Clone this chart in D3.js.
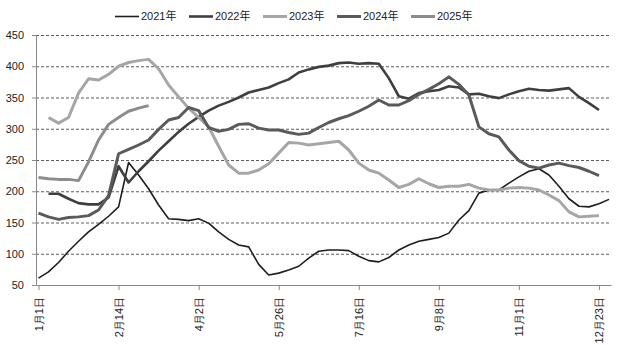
<!DOCTYPE html>
<html>
<head>
<meta charset="utf-8">
<script src="https://cdn.jsdelivr.net/npm/d3@7"></script>
<style>
  body { margin: 0; background: #fff; }
  svg { display: block; font-family: "Liberation Sans", "Noto Sans CJK SC", sans-serif; }
</style>
</head>
<body>
<svg id="chart" width="617" height="345"></svg>
<script>
// Category axis: one point per period, a date label every 8 periods
const tickLabels = ["1月1日", "2月14日", "4月2日", "5月26日", "7月16日", "9月8日", "11月1日", "12月23日"];
const labelEvery = 8;
const yTicks = [50, 100, 150, 200, 250, 300, 350, 400, 450];
const seriesNames = ["2021年", "2022年", "2023年", "2024年", "2025年"];

const s2021 = [61, 71, 86, 104, 120, 135, 147, 160, 175, 246, 226, 204, 178, 156, 155, 153, 156, 149, 135, 123,
  114, 111, 83, 66, 69, 74, 80, 93, 104, 106, 106, 105, 96, 89, 87, 94, 106, 114, 120, 123,
  126, 133, 154, 169, 197, 202, 202, 213, 223, 232, 236, 226, 208, 188, 176, 175, 180, 187];
const s2022 = [null, 196, 196, 188, 181, 179, 179, 190, 240, 214, 232, 248, 265, 280, 295, 308, 319, 329, 337, 343,
  350, 358, 362, 366, 373, 379, 390, 395, 399, 401, 405, 406, 404, 405, 404, 381, 352, 348, 357, 360,
  362, 368, 366, 355, 356, 352, 349, 355, 360, 364, 362, 361, 363, 365, 351, 341, 330];
const s2023 = [null, 318, 309, 318, 357, 380, 378, 387, 400, 406, 409, 411, 396, 370, 351, 333, 318, 303, 272, 242,
  229, 229, 234, 244, 261, 278, 277, 274, 276, 278, 280, 266, 245, 234, 229, 218, 206, 211, 220, 212,
  206, 208, 208, 211, 205, 202, 202, 205, 206, 205, 202, 194, 185, 167, 159, 160, 161];
const s2024 = [165, 159, 155, 158, 159, 161, 170, 193, 260, 267, 274, 282, 299, 314, 318, 334, 329, 302, 296, 299,
  307, 308, 301, 298, 298, 294, 291, 293, 302, 310, 316, 321, 328, 336, 346, 338, 338, 345, 355, 363,
  372, 383, 371, 354, 303, 292, 287, 266, 249, 240, 237, 242, 245, 241, 238, 232, 225];
const s2025 = [222, 220, 219, 219, 217, 247, 282, 307, 318, 328, 333, 337];

const seriesValues = [s2021, s2022, s2023, s2024, s2025];
const seriesColors = ["#1e1e1e", "#3f3f3f", "#a6a6a6", "#5a5a5a", "#8c8c8c"];
const seriesWidths = [1.6, 2.6, 3, 3, 3];

const svg = d3.select("#chart");
const plot = { left: 36, right: 611, top: 35, bottom: 285 };

const x = d3.scaleLinear().domain([-0.25, 57.2]).range([plot.left, plot.right]);
const y = d3.scaleLinear().domain([50, 450]).range([plot.bottom, plot.top]);

// Dashed horizontal gridlines
const grid = svg.append("g")
  .attr("transform", `translate(${plot.left},0)`)
  .call(d3.axisLeft(y).tickValues(yTicks.filter(v => v > 50)).tickSize(-(plot.right - plot.left)).tickFormat(""));
grid.select(".domain").remove();
grid.selectAll("line").attr("stroke", "#4a4a4a").attr("stroke-width", 0.9).attr("stroke-dasharray", "3,2");

// Y axis
const yAxis = svg.append("g")
  .attr("transform", `translate(${plot.left},0)`)
  .call(d3.axisLeft(y).tickValues(yTicks).tickSize(4).tickSizeOuter(0).tickPadding(8));
yAxis.select(".domain").attr("stroke", "#888");
yAxis.selectAll(".tick line").attr("stroke", "#888");
yAxis.selectAll("text").attr("font-size", 11).attr("fill", "#222")
  .attr("font-family", "'Liberation Sans', sans-serif");

// X axis with rotated date labels
const xAxis = svg.append("g")
  .attr("transform", `translate(0,${plot.bottom})`)
  .call(d3.axisBottom(x)
    .tickValues(tickLabels.map((_, k) => k * labelEvery))
    .tickFormat(i => tickLabels[i / labelEvery])
    .tickSize(5).tickSizeOuter(0));
xAxis.select(".domain").attr("stroke", "#888");
xAxis.selectAll(".tick line").attr("stroke", "#888");
xAxis.selectAll("text")
  .attr("font-size", 11).attr("fill", "#222")
  .attr("text-anchor", "end")
  .attr("dy", "0.35em")
  .attr("transform", "translate(0,12) rotate(-90)")
  .attr("y", 0).attr("x", 0);

// Series lines
const line = d3.line()
  .defined(d => d != null)
  .x((d, i) => x(i))
  .y(d => y(d));

svg.append("g").selectAll("path")
  .data(seriesValues)
  .join("path")
  .attr("d", d => line(d))
  .attr("fill", "none")
  .attr("stroke", (d, k) => seriesColors[k])
  .attr("stroke-width", (d, k) => seriesWidths[k])
  .attr("stroke-linejoin", "round")
  .attr("stroke-linecap", "butt");

// Legend
const legend = svg.append("g").attr("transform", "translate(115,16.5)");
const item = legend.selectAll("g")
  .data(seriesNames)
  .join("g")
  .attr("transform", (d, k) => `translate(${k * 74},0)`);
item.append("line")
  .attr("x1", 0).attr("x2", 24).attr("y1", 0).attr("y2", 0)
  .attr("stroke", (d, k) => seriesColors[k])
  .attr("stroke-width", (d, k) => seriesWidths[k]);
item.append("text")
  .attr("x", 26).attr("y", 0).attr("dy", "0.35em")
  .attr("font-size", 11).attr("fill", "#222")
  .text(d => d);
</script>
</body>
</html>
